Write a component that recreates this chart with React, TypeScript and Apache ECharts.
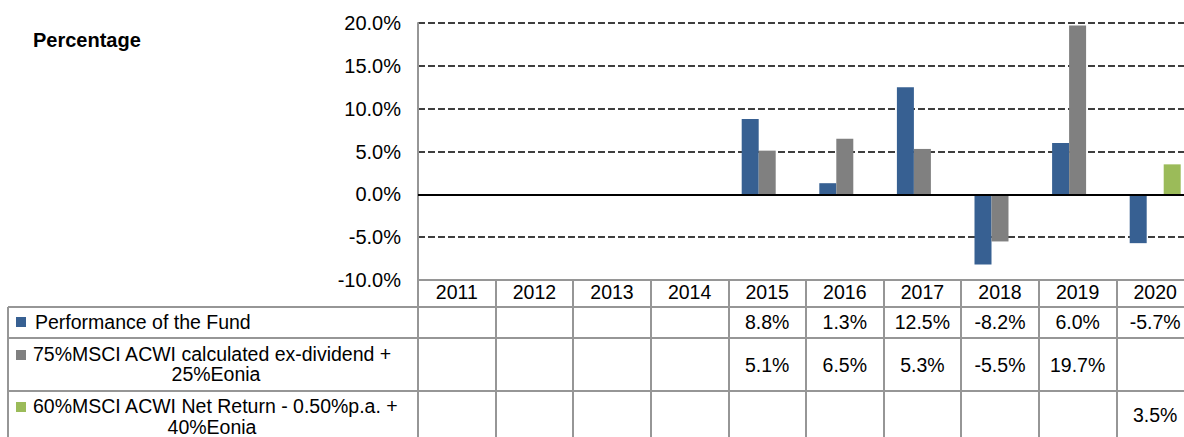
import React, { useEffect, useRef } from "react";
import * as echarts from "echarts";

const years = ["2011", "2012", "2013", "2014", "2015", "2016", "2017", "2018", "2019", "2020"];
const fund: (number | null)[] = [null, null, null, null, 8.8, 1.3, 12.5, -8.2, 6.0, -5.7];
const bench1: (number | null)[] = [null, null, null, null, 5.1, 6.5, 5.3, -5.5, 19.7, null];
const bench2: (number | null)[] = [null, null, null, null, null, null, null, null, null, 3.5];
const seriesNames = [
  "Performance of the Fund",
  "75%MSCI ACWI calculated ex-dividend + 25%Eonia",
  "60%MSCI ACWI Net Return - 0.50%p.a. + 40%Eonia",
];
const legendLines = [
  ["Performance of the Fund"],
  ["75%MSCI ACWI calculated ex-dividend +", "25%Eonia"],
  ["60%MSCI ACWI Net Return - 0.50%p.a. +", "40%Eonia"],
];
const colors = ["#376092", "#808080", "#9BBB59"];
const yMin = -10;
const yMax = 20;
const yStep = 5;

const FONT = "'Liberation Sans', Arial, sans-serif";
const GRID_LINE = "#969696";
const TABLE_FS = 19.5;

const fmt = (v: number | null) => (v === null || v === undefined ? "" : v.toFixed(1) + "%");

export default function App() {
  const ref = useRef<HTMLDivElement>(null);
  useEffect(() => {
    if (!ref.current) return;
    const chart = echarts.init(ref.current, undefined, { renderer: "svg" });
    const rows = [fund, bench1, bench2];
    const rowMargins = [42, 85, 135];
    const valueAxes = rows.map((row, k) => ({
      type: "category",
      data: years,
      position: "bottom",
      gridIndex: 0,
      axisLine: { show: false },
      axisTick: { show: false },
      splitLine: { show: false },
      axisLabel: {
        interval: 0,
        margin: rowMargins[k],
        verticalAlign: "middle",
        fontSize: TABLE_FS,
        fontFamily: FONT,
        color: "#000",
        formatter: (_v: string, i: number) => fmt(row[i]),
      },
    }));

    const rowLinesY = [307, 338, 391];
    const graphics: any[] = [
      {
        type: "text",
        x: 33,
        y: 40,
        style: { text: "Percentage", font: `bold 20px ${FONT}`, fill: "#000", textVerticalAlign: "middle" },
      },
      ...rowLinesY.map((y) => ({
        type: "line",
        shape: { x1: 8, y1: y, x2: 1194, y2: y },
        style: { stroke: GRID_LINE, lineWidth: 2 },
        silent: true,
      })),
      {
        type: "line",
        shape: { x1: 8, y1: 307, x2: 8, y2: 437 },
        style: { stroke: GRID_LINE, lineWidth: 2 },
        silent: true,
      },
    ];
    const legendRows = [
      { markerY: 317, lines: [{ x: 35, y: 322, align: "left" }] },
      { markerY: 350, lines: [{ x: 33, y: 354, align: "left" }, { x: 216, y: 374, align: "center" }] },
      { markerY: 402, lines: [{ x: 33, y: 406, align: "left" }, { x: 212, y: 427, align: "center" }] },
    ];
    legendRows.forEach((r, k) => {
      graphics.push({
        type: "rect",
        shape: { x: 16, y: r.markerY, width: 10, height: 10 },
        style: { fill: colors[k] },
        silent: true,
      });
      r.lines.forEach((ln, j) => {
        graphics.push({
          type: "text",
          x: ln.x,
          y: ln.y,
          style: {
            text: legendLines[k][j],
            font: `${TABLE_FS}px ${FONT}`,
            fill: "#000",
            textAlign: ln.align,
            textVerticalAlign: "middle",
          },
          silent: true,
        });
      });
    });

    chart.setOption({
      animation: false,
      textStyle: { fontFamily: FONT },
      grid: { left: 418, top: 23, width: 776, height: 257, containLabel: false },
      xAxis: [
        {
          type: "category",
          data: years,
          position: "bottom",
          axisLine: { show: true, onZero: false, lineStyle: { color: GRID_LINE, width: 2 } },
          axisTick: { show: true, length: 157, alignWithLabel: false, lineStyle: { color: GRID_LINE, width: 2 } },
          axisLabel: {
            interval: 0,
            margin: 12,
            verticalAlign: "middle",
            fontSize: TABLE_FS,
            fontFamily: FONT,
            color: "#000",
          },
          splitLine: { show: false },
        },
        ...valueAxes,
      ],
      yAxis: {
        type: "value",
        min: yMin,
        max: yMax,
        interval: yStep,
        axisLine: { show: true, lineStyle: { color: GRID_LINE, width: 2 } },
        axisTick: { show: false },
        axisLabel: {
          margin: 17,
          fontSize: 20,
          fontFamily: FONT,
          color: "#000",
          formatter: (v: number) => v.toFixed(1) + "%",
        },
        splitLine: { show: true, lineStyle: { color: "#000", width: 1.5, type: [7, 3] } },
      },
      series: [
        {
          name: seriesNames[0],
          type: "bar",
          data: fund,
          barWidth: 17,
          barGap: "0%",
          itemStyle: { color: colors[0] },
          markLine: {
            silent: true,
            symbol: ["none", "none"],
            label: { show: false },
            lineStyle: { color: "#000", width: 2, type: "solid" },
            data: [{ yAxis: 0 }],
          },
        },
        { name: seriesNames[1], type: "bar", data: bench1, barWidth: 17, barGap: "0%", itemStyle: { color: colors[1] } },
        { name: seriesNames[2], type: "bar", data: bench2, barWidth: 17, barGap: "0%", itemStyle: { color: colors[2] } },
      ],
      graphic: graphics,
    });
    return () => chart.dispose();
  }, []);
  return (
    <div style={{ position: "fixed", left: 0, top: 0, width: 1184, height: 437, overflow: "hidden", background: "#fff" }}>
      <div ref={ref} style={{ width: 1194, height: 437 }} />
    </div>
  );
}
